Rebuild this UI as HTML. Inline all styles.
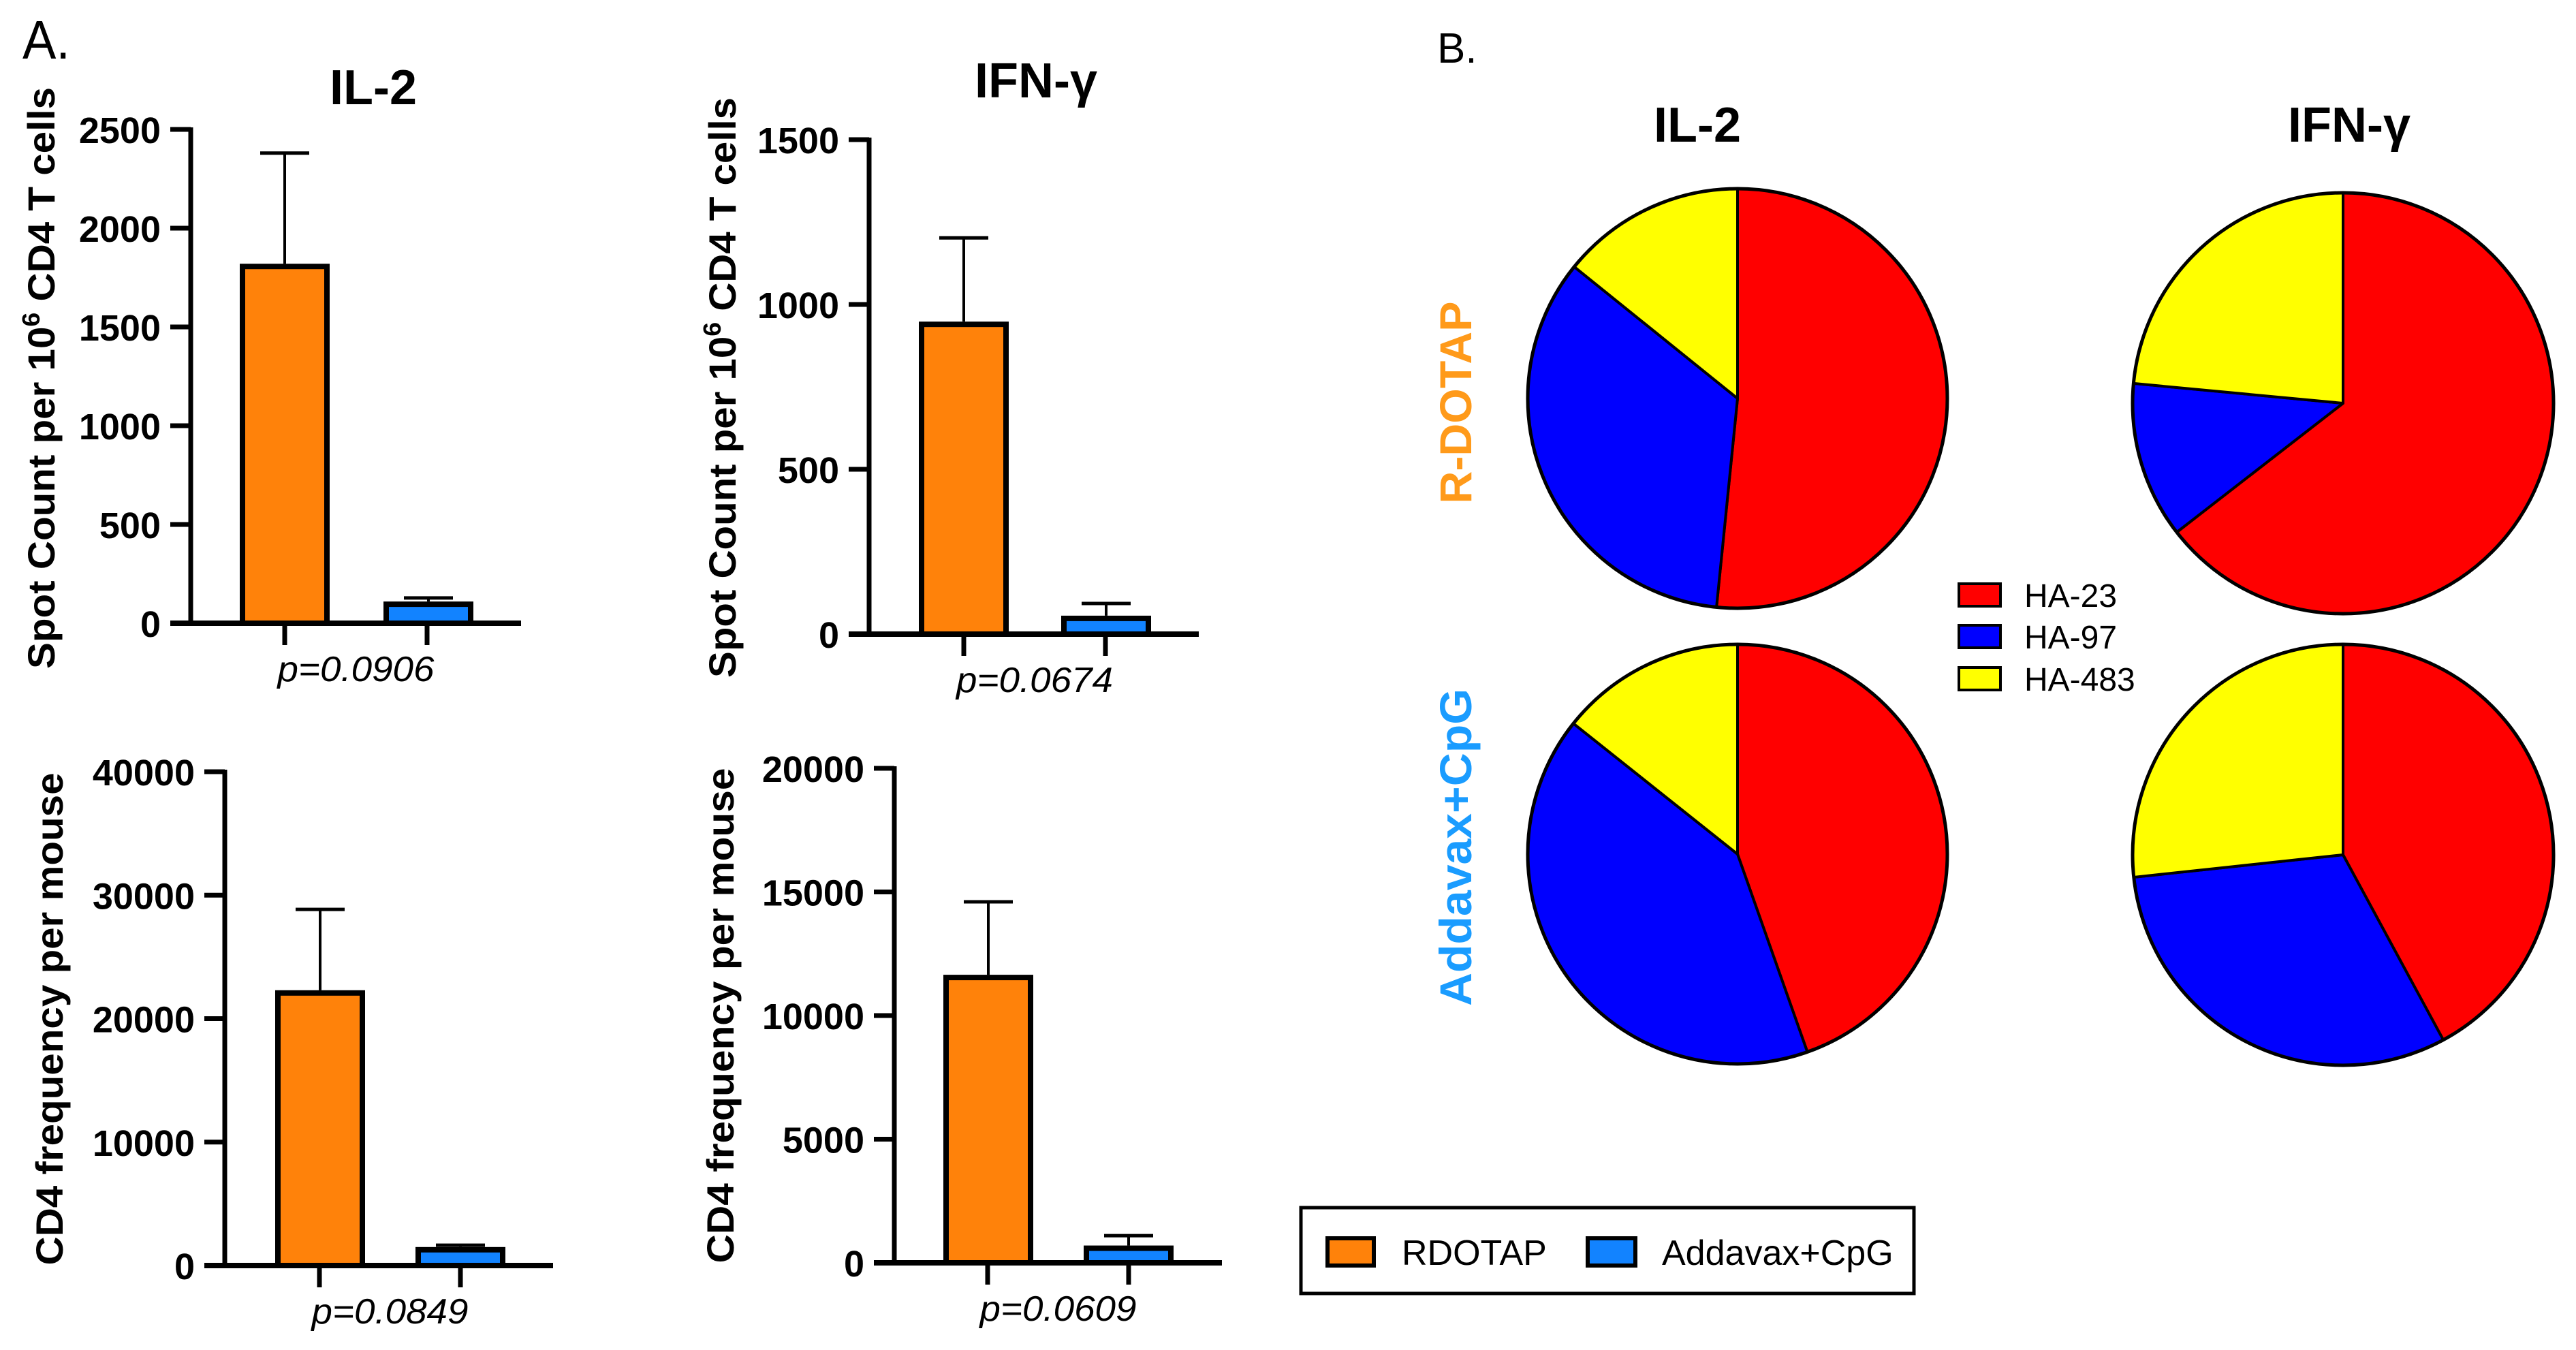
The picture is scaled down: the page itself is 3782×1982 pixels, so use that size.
<!DOCTYPE html>
<html><head><meta charset="utf-8"><style>
html,body{margin:0;padding:0;background:#fff}
svg{display:block}
text{font-family:"Liberation Sans",sans-serif}
</style></head><body>
<svg id="fig" width="3782" height="1982" viewBox="0 0 3782 1982" xmlns="http://www.w3.org/2000/svg">
<rect width="3782" height="1982" fill="#fff"/>
<text x="33" y="86" font-size="80" textLength="70" lengthAdjust="spacingAndGlyphs">A.</text>
<text x="2110" y="92" font-size="62">B.</text>
<g id="bars"></g>
<g id="pies"></g>
<g>
<rect x="2876" y="857" width="61" height="33" fill="#ff0000" stroke="#000" stroke-width="4"/>
<text x="2972" y="891" font-size="48">HA-23</text>
<rect x="2876" y="918" width="61" height="33" fill="#0000ff" stroke="#000" stroke-width="4"/>
<text x="2972" y="952" font-size="48">HA-97</text>
<rect x="2876" y="980" width="61" height="33" fill="#ffff00" stroke="#000" stroke-width="4"/>
<text x="2972" y="1014" font-size="48">HA-483</text>
</g>
<g>
<rect x="1910" y="1773" width="900" height="126" fill="#fff" stroke="#000" stroke-width="5"/>
<rect x="1949" y="1818" width="68" height="40" fill="#ff820a" stroke="#000" stroke-width="6"/>
<text x="2058" y="1857" font-size="52">RDOTAP</text>
<rect x="2331" y="1818" width="70" height="40" fill="#1283ff" stroke="#000" stroke-width="6"/>
<text x="2440" y="1857" font-size="52">Addavax+CpG</text>
</g>
<text x="2492" y="208" font-size="72" font-weight="bold" text-anchor="middle">IL-2</text>
<text x="3449" y="208" font-size="72" font-weight="bold" text-anchor="middle">IFN-γ</text>
<text transform="translate(2160,591) rotate(-90)" font-size="66" font-weight="bold" fill="#ff9a1a" text-anchor="middle" textLength="297" lengthAdjust="spacingAndGlyphs">R-DOTAP</text>
<text transform="translate(2160,1244) rotate(-90)" font-size="66" font-weight="bold" fill="#1a9cff" text-anchor="middle" textLength="466" lengthAdjust="spacingAndGlyphs">Addavax+CpG</text>
</svg>
<script>
// ---- bar chart data ----
const barGroups = ["RDOTAP", "Addavax+CpG"];
const il2SpotMeans = [1820, 110];
const il2SpotErr = [2380, 128];
const ifnSpotMeans = [948, 56];
const ifnSpotErr = [1202, 93];
const il2FreqMeans = [22300, 1500];
const il2FreqErr = [28850, 1650];
const ifnFreqMeans = [11650, 700];
const ifnFreqErr = [14600, 1100];
const il2SpotTicks = [0, 500, 1000, 1500, 2000, 2500];
const ifnSpotTicks = [0, 500, 1000, 1500];
const il2FreqTicks = [0, 10000, 20000, 30000, 40000];
const ifnFreqTicks = [0, 5000, 10000, 15000, 20000];
const pValues = ["p=0.0906", "p=0.0674", "p=0.0849", "p=0.0609"];
// ---- pie data (fractions: HA-23, HA-97, HA-483) ----
const pieSeries = ["HA-23", "HA-97", "HA-483"];
const pieRdotapIl2 = [0.516, 0.342, 0.142];
const pieRdotapIfn = [0.645, 0.12, 0.235];
const pieAddavaxIl2 = [0.446, 0.411, 0.143];
const pieAddavaxIfn = [0.421, 0.312, 0.267];

const NS = "http://www.w3.org/2000/svg";
function mk(tag, attrs, parent){const e=document.createElementNS(NS,tag);for(const k in attrs)e.setAttribute(k,attrs[k]);parent.appendChild(e);return e;}
const barColors = ["#ff820a", "#1283ff"];

const charts = [
 {name:"il2-spot", ax:280, y0:915, ytop:190, xend:765, ticks:il2SpotTicks, means:il2SpotMeans, err:il2SpotErr, bx:[352,563], bw:132, tx:[418,627], title:"IL-2", titleX:548, titleY:153, ylab:"Spot Count per 10|6| CD4 T cells", ylx:80, yly:555, yll:854, p:pValues[0]},
 {name:"ifn-spot", ax:1276, y0:931, ytop:205, xend:1760, ticks:ifnSpotTicks, means:ifnSpotMeans, err:ifnSpotErr, bx:[1349,1558], bw:132, tx:[1415,1623], title:"IFN-γ", titleX:1521, titleY:143, ylab:"Spot Count per 10|6| CD4 T cells", ylx:1080, yly:569, yll:852, p:pValues[1]},
 {name:"il2-freq", ax:330, y0:1858, ytop:1133, xend:812, ticks:il2FreqTicks, means:il2FreqMeans, err:il2FreqErr, bx:[404,610], bw:132, tx:[469,676], title:null, ylab:"CD4 frequency per mouse", ylx:92, yly:1496, yll:723, p:pValues[2]},
 {name:"ifn-freq", ax:1313, y0:1854, ytop:1128, xend:1794, ticks:ifnFreqTicks, means:ifnFreqMeans, err:ifnFreqErr, bx:[1385,1591], bw:132, tx:[1450,1657], title:null, ylab:"CD4 frequency per mouse", ylx:1077, yly:1491, yll:727, p:pValues[3]}
];
const barsG = document.getElementById("bars");
charts.forEach(c=>{
  const g = mk("g",{},barsG);
  
  
  const maxT = c.ticks[c.ticks.length-1];
  const yS = v => c.y0 - (v/maxT)*(c.y0-c.ytop);
  c.means.forEach((m,i)=>{
    const x=c.bx[i], yt=yS(m), ye=yS(c.err[i]), cx=x+c.bw/2;
    const el = mk("line",{x1:cx,x2:cx,y1:ye,y2:yt,stroke:"#000","stroke-width":4},g);
    
    
    const cap = mk("line",{x1:cx-36,x2:cx+36,y1:ye,y2:ye,stroke:"#000","stroke-width":5},g);
    
    
    const r = mk("rect",{x:x+4,y:yt+4,width:c.bw-8,height:Math.max(0,c.y0-yt-4),fill:barColors[i],stroke:"#000","stroke-width":8},g);
    
    
  });
  const ya = mk("line",{x1:c.ax,x2:c.ax,y1:c.ytop-3,y2:c.y0+4,stroke:"#000","stroke-width":7},g);
  
  
  const xa = mk("line",{x1:c.ax-30,x2:c.xend,y1:c.y0,y2:c.y0,stroke:"#000","stroke-width":8},g);
  
  
  c.ticks.forEach(t=>{
    const y=yS(t);
    const tl = mk("line",{x1:c.ax-30,x2:c.ax,y1:y,y2:y,stroke:"#000","stroke-width":7},g);
    
    
    const tt = mk("text",{x:c.ax-44,y:y+20,"font-size":54,"font-weight":"bold","text-anchor":"end"},g);
    tt.textContent = String(t);
    
    
  });
  c.tx.forEach(x=>{
    const xt = mk("line",{x1:x,x2:x,y1:c.y0,y2:c.y0+32,stroke:"#000","stroke-width":7},g);
    
    
  });
  const px = (c.tx[0]+c.tx[1])/2;
  const pt = mk("text",{x:px,y:c.y0+85,"font-size":52,"font-style":"italic","text-anchor":"middle",textLength:230,lengthAdjust:"spacingAndGlyphs"},g);
  pt.textContent = c.p;
  
  
  if(c.title){
    const ti = mk("text",{x:c.titleX,y:c.titleY,"font-size":72,"font-weight":"bold","text-anchor":"middle"},g);
    ti.textContent = c.title;
    
    
  }
  const yl = mk("text",{transform:`translate(${c.ylx},${c.yly}) rotate(-90)`,"font-size":56,"font-weight":"bold","text-anchor":"middle",textLength:c.yll,lengthAdjust:"spacingAndGlyphs"},g);
  
  
  const parts = c.ylab.split("|");
  parts.forEach((p,i)=>{
    const ts = mk("tspan", i===1?{dy:-22,"font-size":36}:(i===2?{dy:22}:{}), yl);
    ts.textContent = p;
  });
});

const pies = [
 {name:"pie-rdotap-il2", cx:2551, cy:585, r:308, data:pieRdotapIl2},
 {name:"pie-rdotap-ifng", cx:3440, cy:592, r:309, data:pieRdotapIfn},
 {name:"pie-addavax-il2", cx:2551, cy:1254, r:308, data:pieAddavaxIl2},
 {name:"pie-addavax-ifng", cx:3440, cy:1255, r:309, data:pieAddavaxIfn}
];
const pieColors = ["#ff0000", "#0000ff", "#ffff00"];
const piesG = document.getElementById("pies");
pies.forEach(p=>{
  const g = mk("g",{},piesG);
  
  
  const tot = p.data.reduce((a,b)=>a+b,0);
  let a0 = 0;
  p.data.forEach((v,i)=>{
    const a1 = a0 + v/tot*2*Math.PI;
    const x0=p.cx+p.r*Math.sin(a0), y0=p.cy-p.r*Math.cos(a0);
    const x1=p.cx+p.r*Math.sin(a1), y1=p.cy-p.r*Math.cos(a1);
    const large = (a1-a0)>Math.PI?1:0;
    const s = mk("path",{d:`M${p.cx},${p.cy} L${x0},${y0} A${p.r},${p.r} 0 ${large} 1 ${x1},${y1} Z`,fill:pieColors[i],stroke:"#000","stroke-width":4,"stroke-linejoin":"round"},g);
    
    
    a0 = a1;
  });
  mk("circle",{cx:p.cx,cy:p.cy,r:p.r,fill:"none",stroke:"#000","stroke-width":5},g);
});
</script>
</body></html>
